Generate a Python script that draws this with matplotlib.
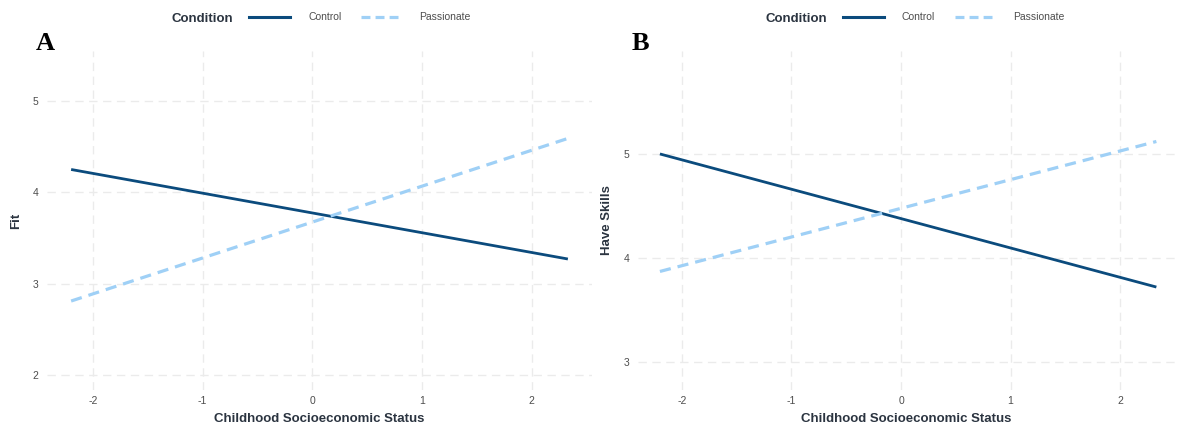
import matplotlib
matplotlib.use('Agg')
import matplotlib.pyplot as plt
from matplotlib.lines import Line2D

plt.rcParams['font.family'] = ['Liberation Sans', 'DejaVu Sans']
plt.rcParams['axes.unicode_minus'] = False

# simple slopes
ses = [-2.2, 2.33]
fit_control = [4.25, 3.27]
fit_passionate = [2.81, 4.59]
skills_control = [5.0, 3.72]
skills_passionate = [3.87, 5.12]

x_ticks = [-2, -1, 0, 1, 2]
fit_ticks = [2, 3, 4, 5]
skills_ticks = [3, 4, 5]

CONTROL = '#0B4B7D'
PASSION = '#9FD0F6'
GRID = '#EBEBEB'
DASH = (0, (3.5, 2.2))

fig = plt.figure(figsize=(11.78, 4.33), dpi=100)
W, H = 1178, 433


def make_ax(left, right, top, bottom):
    return fig.add_axes([left / W, 1 - bottom / H, (right - left) / W, (bottom - top) / H])


def style(ax, yticks, ylabel, xlim, ylim):
    ax.set_xlim(*xlim)
    ax.set_ylim(*ylim)
    ax.set_xticks(x_ticks)
    ax.set_yticks(yticks)
    ax.grid(True, color=GRID, linestyle=(0, (6, 4)), linewidth=1.0)
    ax.set_axisbelow(True)
    for s in ax.spines.values():
        s.set_visible(False)
    ax.tick_params(axis='x', length=0, labelsize=7.5, labelcolor='#4D4D4D', pad=4)
    ax.tick_params(axis='y', length=0, labelsize=7.5, labelcolor='#4D4D4D', pad=6)
    ax.set_xlabel('Childhood Socioeconomic Status', fontsize=9.5, fontweight='bold',
                  color='#2B3440', labelpad=5)
    ax.set_ylabel(ylabel, fontsize=9.5, fontweight='bold', color='#2B3440', labelpad=8)


def add_lines(ax, ctrl, pas):
    ax.plot(ses, ctrl, color=CONTROL, linewidth=2.0, solid_capstyle='butt')
    ax.plot(ses, pas, color=PASSION, linewidth=2.3, linestyle=DASH)


def add_legend(x0):
    # title, then key + label pairs laid out in a row (pixel offsets from x0)
    fig.text(x0 / W, 1 - 19 / H, 'Condition', fontsize=9.5, fontweight='bold',
             color='#2B3440', va='center', ha='left')
    y = 1 - 17 / H
    fig.add_artist(Line2D([(x0 + 77) / W, (x0 + 118) / W], [y, y], color=CONTROL,
                          linewidth=2.2, transform=fig.transFigure))
    fig.text((x0 + 136) / W, y, 'Control', fontsize=7.5, color='#4D4D4D',
             va='center', ha='left')
    fig.add_artist(Line2D([(x0 + 189) / W, (x0 + 226) / W], [y, y], color=PASSION,
                          linewidth=2.3, linestyle=(0, (2.8, 1.6)), transform=fig.transFigure))
    fig.text((x0 + 247) / W, y, 'Passionate', fontsize=7.5, color='#4D4D4D',
             va='center', ha='left')


axA = make_ax(47, 592, 51, 390)
add_lines(axA, fit_control, fit_passionate)
style(axA, fit_ticks, 'Fit', (-2.42, 2.55), (1.836, 5.547))

axB = make_ax(638, 1175, 51, 390)
add_lines(axB, skills_control, skills_passionate)
style(axB, skills_ticks, 'Have Skills', (-2.40, 2.50), (2.73, 5.99))

fig.text(36 / W, 1 - 43 / H, 'A', family='Liberation Serif', fontsize=19,
         fontweight='bold', va='center', ha='left')
fig.text(632 / W, 1 - 43 / H, 'B', family='Liberation Serif', fontsize=19,
         fontweight='bold', va='center', ha='left')

add_legend(172)
add_legend(766)

fig.savefig('out.png', dpi=100, facecolor='white')
